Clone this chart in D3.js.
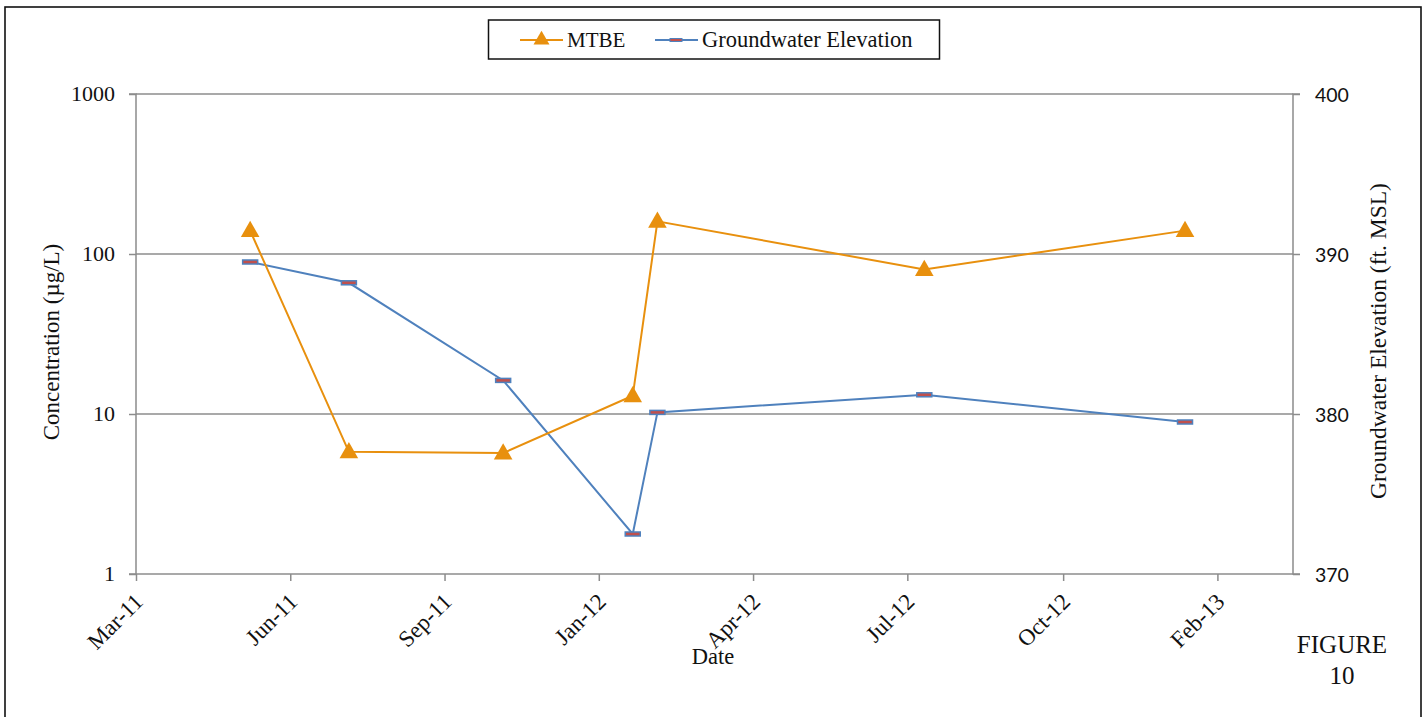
<!DOCTYPE html>
<html>
<head>
<meta charset="utf-8">
<script src="https://cdn.jsdelivr.net/npm/d3@7"></script>
<style>
  html, body { margin: 0; padding: 0; background: #fff; }
  svg { display: block; }
  .serif { font-family: "Liberation Serif", "DejaVu Serif", serif; fill: #111; }
  .sans { font-family: "Lato", "Liberation Sans", sans-serif; fill: #111; }
</style>
</head>
<body>
<svg id="chart" width="1423" height="717"></svg>
<script>
// Sampling dates and measured values
const sampleDates = ["2011-05-22", "2011-07-25", "2011-11-02", "2012-01-25", "2012-02-10", "2012-08-01", "2013-01-17"];
const mtbe = [140, 5.8, 5.7, 13, 160, 80, 140];                         // µg/L
const gwElevation = [389.5, 388.2, 382.1, 372.5, 380.1, 381.2, 379.5];  // ft. MSL

// Axis settings
const dateDomain = ["2011-03-09", "2013-03-28"];
const dateTicks = ["2011-03-09", "2011-06-17", "2011-09-25", "2012-01-03", "2012-04-12", "2012-07-21", "2012-10-30", "2013-02-07"];
const concTicks = [1, 10, 100, 1000];
const elevTicks = [370, 380, 390, 400];
const seriesNames = ["MTBE", "Groundwater Elevation"];

const parse = d3.utcParse("%Y-%m-%d");
const fmt = d3.utcFormat("%b-%y");

const svg = d3.select("#chart");
const orange = "#E8900E", blue = "#4F81BD", dashFill = "#C0504D", gridCol = "#8C8C8C";
const pLeft = 136, pRight = 1293, pTop = 94, pBottom = 574;

const x = d3.scaleUtc().domain(dateDomain.map(parse)).range([pLeft, pRight]);
const yL = d3.scaleLog().domain([1, 1000]).range([pBottom, pTop]);
const yR = d3.scaleLinear().domain([370, 400]).range([pBottom, pTop]);

// outer frame
svg.append("rect").attr("x", 5).attr("y", 7).attr("width", 1416).attr("height", 720)
  .attr("fill", "none").attr("stroke", "#111").attr("stroke-width", 1.6);

// horizontal gridlines
svg.append("g").selectAll("line").data(concTicks.slice(1)).join("line")
  .attr("x1", pLeft).attr("x2", pRight)
  .attr("y1", d => yL(d)).attr("y2", d => yL(d))
  .attr("stroke", gridCol).attr("stroke-width", 1.5);

// left axis
const axL = svg.append("g").attr("transform", `translate(${pLeft},0)`)
  .call(d3.axisLeft(yL).tickValues(concTicks).tickFormat(d3.format("d")).tickSize(7).tickPadding(14));
axL.select(".domain").attr("stroke", gridCol).attr("stroke-width", 1.5).attr("d", `M-7,${pTop}H0V${pBottom}H-7`);
axL.selectAll(".tick line").attr("stroke", gridCol).attr("stroke-width", 1.5);
axL.selectAll(".tick text").attr("class", "serif").style("font-size", "22px").attr("dy", "0.3em");

// right axis
const axR = svg.append("g").attr("transform", `translate(${pRight},0)`)
  .call(d3.axisRight(yR).tickValues(elevTicks).tickSize(7).tickPadding(15));
axR.select(".domain").attr("stroke", gridCol).attr("stroke-width", 1.5).attr("d", `M7,${pTop}H0V${pBottom}H7`);
axR.selectAll(".tick line").attr("stroke", gridCol).attr("stroke-width", 1.5);
axR.selectAll(".tick text").attr("class", "sans").style("font-size", "19.5px").attr("dy", "0.36em");

// bottom axis
const axB = svg.append("g").attr("transform", `translate(0,${pBottom})`)
  .call(d3.axisBottom(x).tickValues(dateTicks.map(parse)).tickFormat(fmt).tickSize(7));
axB.select(".domain").attr("stroke", gridCol).attr("stroke-width", 1.5).attr("d", `M${pLeft},0H${pRight}`);
axB.selectAll(".tick line").attr("stroke", gridCol).attr("stroke-width", 1.5);
axB.selectAll(".tick text").attr("class", "serif").style("font-size", "23px")
  .attr("text-anchor", "end").attr("y", 0).attr("dy", 0)
  .attr("transform", "translate(8,29) rotate(-45)");

// axis titles
svg.append("text").attr("class", "serif").style("font-size", "23px")
  .attr("text-anchor", "middle")
  .attr("transform", `translate(59,342) rotate(-90)`)
  .text("Concentration (µg/L)");
svg.append("text").attr("class", "serif").style("font-size", "23.5px")
  .attr("text-anchor", "middle")
  .attr("transform", `translate(1386,341) rotate(-90)`)
  .text("Groundwater Elevation (ft. MSL)");
svg.append("text").attr("class", "serif").style("font-size", "22.5px")
  .attr("text-anchor", "middle").attr("x", 713).attr("y", 664).text("Date");

// figure label
svg.append("text").attr("class", "serif").style("font-size", "25px")
  .attr("text-anchor", "middle").attr("x", 1342).attr("y", 653).text("FIGURE");
svg.append("text").attr("class", "serif").style("font-size", "25px")
  .attr("text-anchor", "middle").attr("x", 1342).attr("y", 684).text("10");

// series data
const dates = sampleDates.map(parse);
const mtbePts = dates.map((d, i) => ({ date: d, v: mtbe[i] }));
const gwPts = dates.map((d, i) => ({ date: d, v: gwElevation[i] }));

const tri = d3.symbol().type(d3.symbolTriangle).size(150);

// groundwater elevation (right axis)
svg.append("path").datum(gwPts)
  .attr("d", d3.line().x(d => x(d.date)).y(d => yR(d.v)))
  .attr("fill", "none").attr("stroke", blue).attr("stroke-width", 2);
svg.append("g").selectAll("rect").data(gwPts).join("rect")
  .attr("x", d => x(d.date) - 7.5).attr("y", d => yR(d.v) - 2)
  .attr("width", 15).attr("height", 4)
  .attr("fill", dashFill).attr("stroke", blue).attr("stroke-width", 1.5);

// MTBE (left axis)
svg.append("path").datum(mtbePts)
  .attr("d", d3.line().x(d => x(d.date)).y(d => yL(d.v)))
  .attr("fill", "none").attr("stroke", orange).attr("stroke-width", 2);
svg.append("g").selectAll("path").data(mtbePts).join("path")
  .attr("d", tri)
  .attr("transform", d => `translate(${x(d.date)},${yL(d.v) + 1})`)
  .attr("fill", orange);

// legend
const lg = svg.append("g");
lg.append("rect").attr("x", 488.5).attr("y", 20).attr("width", 451).attr("height", 39)
  .attr("fill", "#fff").attr("stroke", "#111").attr("stroke-width", 1.5);
lg.append("line").attr("x1", 520).attr("x2", 563).attr("y1", 40).attr("y2", 40)
  .attr("stroke", orange).attr("stroke-width", 2);
lg.append("path").attr("d", d3.symbol().type(d3.symbolTriangle).size(110))
  .attr("transform", "translate(541.5,40)").attr("fill", orange);
lg.append("text").attr("class", "serif").style("font-size", "21px")
  .attr("x", 567).attr("y", 47).text(seriesNames[0]);
lg.append("line").attr("x1", 655).attr("x2", 698).attr("y1", 40).attr("y2", 40)
  .attr("stroke", blue).attr("stroke-width", 2);
lg.append("rect").attr("x", 670).attr("y", 38.5).attr("width", 12).attr("height", 3)
  .attr("fill", dashFill).attr("stroke", blue).attr("stroke-width", 1);
lg.append("text").attr("class", "serif").style("font-size", "22.5px")
  .attr("x", 702).attr("y", 47).text(seriesNames[1]);
</script>
</body>
</html>
